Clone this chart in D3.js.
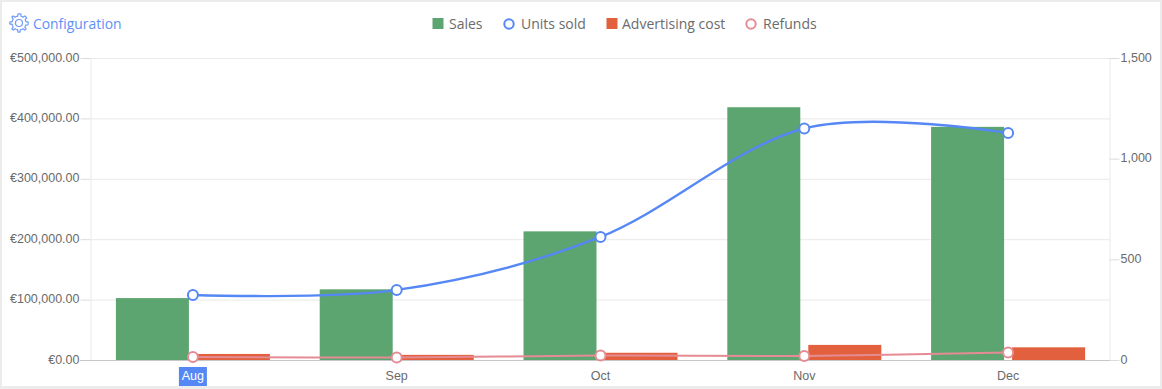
<!DOCTYPE html>
<html>
<head>
<meta charset="utf-8">
<script src="https://cdn.jsdelivr.net/npm/d3@7"></script>
<style>
  html, body { margin: 0; padding: 0; background: #ececec; }
  svg { display: block; }
</style>
</head>
<body>
<script>
const months = ['Aug', 'Sep', 'Oct', 'Nov', 'Dec']
const sales = [102500, 117000, 213000, 418500, 386000]
const adCost = [10000, 8500, 12000, 25000, 21000]
const unitsSold = [323, 348, 611, 1150, 1127]
const refunds = [15, 12, 22, 20, 37]
const moneyTicks = [0, 100000, 200000, 300000, 400000, 500000]
const unitTicks = [0, 500, 1000, 1500]

const width = 1162, height = 389
const margin = { top: 58, right: 52, bottom: 29, left: 91 }

const green = '#5ca570', red = '#e2603e', blue = '#5587f5', pink = '#e58b94'
const axisText = '#6a6a6a', gridColor = '#e9e9e9'
const money = v => '€' + d3.format(',.2f')(v)

const svg = d3.select('body').append('svg')
  .attr('width', width)
  .attr('height', height)
  .style('font-family', '"Liberation Sans", Arial, sans-serif')

// white panel on the grey page
svg.append('rect')
  .attr('x', 2).attr('y', 2)
  .attr('width', width - 4).attr('height', height - 5)
  .attr('fill', '#fff')

const x = d3.scaleBand().domain(months).range([margin.left, width - margin.right])
const yMoney = d3.scaleLinear().domain([0, 500000]).range([height - margin.bottom, margin.top])
const yUnits = d3.scaleLinear().domain([0, 1500]).range([height - margin.bottom, margin.top])
const center = m => x(m) + x.bandwidth() / 2

// grid
svg.selectAll('.grid')
  .data(moneyTicks.slice(1))
  .join('line')
  .attr('class', 'grid')
  .attr('x1', margin.left)
  .attr('x2', width - margin.right)
  .attr('y1', d => yMoney(d) + 0.5)
  .attr('y2', d => yMoney(d) + 0.5)
  .attr('stroke', gridColor)

const styleAxis = g => {
  g.select('.domain').attr('stroke', gridColor)
  g.selectAll('.tick line').attr('stroke', '#dcdcdc')
  g.selectAll('.tick text')
    .attr('fill', axisText)
    .attr('y', -1)
    .style('font-size', '12.5px')
}

svg.append('g')
  .attr('transform', `translate(${margin.left - 0.5},0)`)
  .call(d3.axisLeft(yMoney).tickValues(moneyTicks).tickFormat(money).tickSize(10).tickSizeOuter(0).tickPadding(1))
  .call(styleAxis)

svg.append('g')
  .attr('transform', `translate(${width - margin.right - 0.5},0)`)
  .call(d3.axisRight(yUnits).tickValues(unitTicks).tickFormat(d3.format(',')).tickSize(10).tickSizeOuter(0).tickPadding(1))
  .call(styleAxis)

// bars
const barW = 73, barGap = 4
svg.selectAll('.sales')
  .data(months)
  .join('rect')
  .attr('class', 'sales')
  .attr('x', d => center(d) - barGap - barW)
  .attr('width', barW)
  .attr('y', (d, i) => yMoney(sales[i]))
  .attr('height', (d, i) => yMoney(0) - yMoney(sales[i]))
  .attr('fill', green)

svg.selectAll('.adcost')
  .data(months)
  .join('rect')
  .attr('class', 'adcost')
  .attr('x', d => center(d) + barGap)
  .attr('width', barW)
  .attr('y', (d, i) => yMoney(adCost[i]))
  .attr('height', (d, i) => yMoney(0) - yMoney(adCost[i]))
  .attr('fill', red)

// baseline on top of the bars
svg.append('line')
  .attr('x1', margin.left - 11)
  .attr('x2', width - margin.right)
  .attr('y1', yMoney(0) + 0.5)
  .attr('y2', yMoney(0) + 0.5)
  .attr('stroke', '#c6c6c6')

// lines and their points
const drawSeries = (values, color, lineWidth) => {
  const line = d3.line()
    .x((d, i) => center(months[i]))
    .y(d => yUnits(d))
    .curve(d3.curveCardinal.tension(0))
  svg.append('path')
    .attr('d', line(values))
    .attr('fill', 'none')
    .attr('stroke', color)
    .attr('stroke-width', lineWidth)
  svg.append('g').selectAll('circle')
    .data(values)
    .join('circle')
    .attr('cx', (d, i) => center(months[i]))
    .attr('cy', d => yUnits(d))
    .attr('r', 5)
    .attr('fill', '#fff')
    .attr('stroke', color)
    .attr('stroke-width', 2)
}
drawSeries(refunds, pink, 2)
drawSeries(unitsSold, blue, 2.4)

// category labels
svg.append('rect')
  .attr('x', center('Aug') - 14)
  .attr('y', 367)
  .attr('width', 28)
  .attr('height', 19)
  .attr('fill', blue)

svg.selectAll('.month')
  .data(months)
  .join('text')
  .attr('class', 'month')
  .attr('x', d => center(d))
  .attr('y', 380)
  .attr('text-anchor', 'middle')
  .attr('fill', d => d === 'Aug' ? '#fff' : axisText)
  .style('font-size', '12.5px')
  .text(d => d)

// legend
const legend = [
  { name: 'Sales', color: green, type: 'rect', mark: 438, text: 449 },
  { name: 'Units sold', color: blue, type: 'circle', mark: 509, text: 521 },
  { name: 'Advertising cost', color: red, type: 'rect', mark: 612, text: 622 },
  { name: 'Refunds', color: pink, type: 'circle', mark: 751, text: 763 }
]
const legendItem = svg.selectAll('.legend')
  .data(legend)
  .join('g')
  .attr('class', 'legend')

legendItem.filter(d => d.type === 'rect').append('rect')
  .attr('x', d => d.mark - 5.5)
  .attr('y', 18)
  .attr('width', 11)
  .attr('height', 11)
  .attr('fill', d => d.color)

legendItem.filter(d => d.type === 'circle').append('circle')
  .attr('cx', d => d.mark)
  .attr('cy', 24)
  .attr('r', 4.7)
  .attr('fill', '#fff')
  .attr('stroke', d => d.color)
  .attr('stroke-width', 2)

legendItem.append('text')
  .attr('x', d => d.text)
  .attr('y', 29)
  .attr('fill', '#6b6b6b')
  .style('font-family', '"Open Sans", sans-serif')
  .style('font-size', '14px')
  .text(d => d.name)

// configuration link with gear icon
const gearPoints = d3.range(0, 64).map(i => {
  const a = i / 64 * 2 * Math.PI
  const tooth = Math.cos(a * 8) > 0 ? 9.2 : 7
  return [a, tooth]
})
svg.append('path')
  .attr('transform', 'translate(19,23)')
  .attr('d', d3.lineRadial().curve(d3.curveLinearClosed)(gearPoints))
  .attr('fill', 'none')
  .attr('stroke', '#6f9bf7')
  .attr('stroke-width', 1.2)
svg.append('circle')
  .attr('cx', 19).attr('cy', 23).attr('r', 3.5)
  .attr('fill', 'none')
  .attr('stroke', '#6f9bf7')
  .attr('stroke-width', 1.2)

svg.append('text')
  .attr('x', 33)
  .attr('y', 29)
  .attr('fill', '#5f90f7')
  .style('font-family', '"Open Sans", sans-serif')
  .style('font-size', '13.9px')
  .text('Configuration')
</script>
</body>
</html>
